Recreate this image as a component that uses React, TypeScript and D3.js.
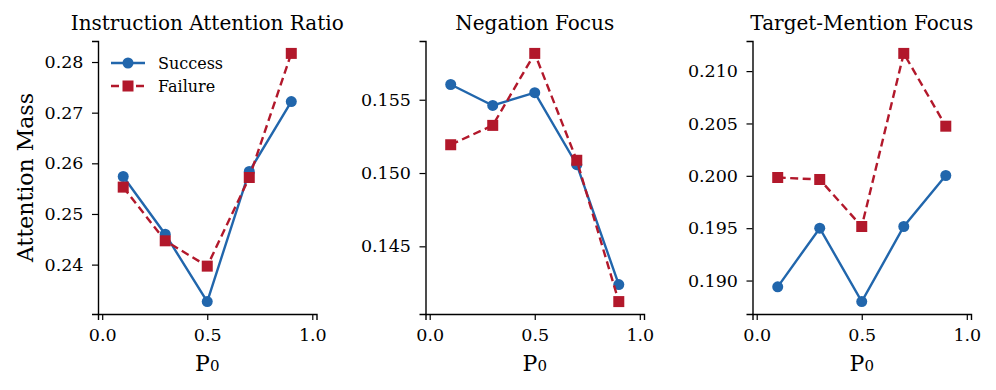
import React, { useRef, useEffect } from "react";
import * as d3 from "d3";

const p0 = [0.1, 0.3, 0.5, 0.7, 0.9];
const xTicks = [0.0, 0.5, 1.0];

const panelTitles = ["Instruction Attention Ratio", "Negation Focus", "Target-Mention Focus"];

const instrSuccess = [0.2574, 0.2460, 0.2327, 0.2584, 0.2722];
const instrFailure = [0.2553, 0.2447, 0.2397, 0.2572, 0.2817];
const negSuccess = [0.15604, 0.15461, 0.15548, 0.15057, 0.14239];
const negFailure = [0.15193, 0.15325, 0.15816, 0.15087, 0.14123];
const targetSuccess = [0.18940, 0.19500, 0.18799, 0.19516, 0.20003];
const targetFailure = [0.19984, 0.19965, 0.19516, 0.21169, 0.20474];

const instrTicks = [0.24, 0.25, 0.26, 0.27, 0.28];
const negTicks = [0.145, 0.150, 0.155];
const targetTicks = [0.190, 0.195, 0.200, 0.205, 0.210];

const blue = "#2166ac";
const red = "#b2182b";
const font = "DejaVu Serif";

const App = () => {
    const plot = useRef(null);

    const width = 996;
    const height = 390;
    const top = 41;
    const bottom = 314;
    const panelLeft = [98, 425.5, 752.5];
    const panelWidth = 218.5;
    const tickFont = 17.5;

    useEffect(() => {
        const svg = d3.select(plot.current);
        svg.selectAll("*").remove();

        const panels = [
            { success: instrSuccess, failure: instrFailure, ticks: instrTicks, fmt: ".2f" },
            { success: negSuccess, failure: negFailure, ticks: negTicks, fmt: ".3f" },
            { success: targetSuccess, failure: targetFailure, ticks: targetTicks, fmt: ".3f" },
        ];

        panels.forEach((p, i) => {
            const left = panelLeft[i];
            const g = svg.append("g").attr("transform", `translate(${left},0)`);

            // matplotlib-like 5% margins on y
            const all = [...p.success, ...p.failure];
            const lo = d3.min(all), hi = d3.max(all);
            const pad = (hi - lo) * 0.05;

            const x = d3.scaleLinear().domain([-0.02, 1.02]).range([0, panelWidth]);
            const y = d3.scaleLinear().domain([lo - pad, hi + pad]).range([bottom, top]);

            const xAxis = d3.axisBottom(x).tickValues(xTicks).tickFormat(d3.format(".1f"))
                .tickSizeOuter(0).tickSize(6).tickPadding(9);
            const yAxis = d3.axisLeft(y).tickValues(p.ticks).tickFormat(d3.format(p.fmt))
                .tickSizeOuter(0).tickSize(6).tickPadding(8.5);

            g.append("g").attr("transform", `translate(0,${bottom})`).call(xAxis)
                .call(a => a.selectAll("text").attr("font-family", font).attr("font-size", tickFont).attr("fill", "#000"))
                .call(a => a.selectAll("line").attr("stroke-width", 1.2))
                .call(a => a.select(".domain").attr("stroke-width", 1.4));
            g.append("g").call(yAxis)
                .call(a => a.selectAll("text").attr("font-family", font).attr("font-size", tickFont).attr("fill", "#000"))
                .call(a => a.selectAll("line").attr("stroke-width", 1.2))
                .call(a => a.select(".domain").attr("stroke-width", 1.4));

            const line = d3.line().x((d, j) => x(p0[j])).y(d => y(d));

            g.append("path").datum(p.success)
                .attr("d", line).attr("fill", "none").attr("stroke", blue).attr("stroke-width", 2.4);
            g.selectAll(".sdot").data(p.success).join("circle")
                .attr("cx", (d, j) => x(p0[j])).attr("cy", d => y(d)).attr("r", 5.5).attr("fill", blue);

            g.append("path").datum(p.failure)
                .attr("d", line).attr("fill", "none").attr("stroke", red).attr("stroke-width", 2.4)
                .attr("stroke-dasharray", "8,4.5");
            g.selectAll(".fsq").data(p.failure).join("rect")
                .attr("x", (d, j) => x(p0[j]) - 5.5).attr("y", d => y(d) - 5.5)
                .attr("width", 11).attr("height", 11).attr("fill", red);

            g.append("text")
                .attr("x", panelWidth / 2).attr("y", 30)
                .attr("text-anchor", "middle")
                .attr("font-family", font).attr("font-size", 20)
                .text(panelTitles[i]);

            const xl = g.append("text")
                .attr("x", panelWidth / 2).attr("y", 371)
                .attr("text-anchor", "middle")
                .attr("font-family", font).attr("font-size", 22);
            xl.append("tspan").text("P");
            xl.append("tspan").attr("font-size", 15).text("0");

            if (i === 0) {
                g.append("text")
                    .attr("transform", `translate(${-65},${(top + bottom) / 2}) rotate(-90)`)
                    .attr("text-anchor", "middle")
                    .attr("font-family", font).attr("font-size", 22)
                    .text("Attention Mass");

                const legend = g.append("g").attr("transform", "translate(13,0)");
                const items = [
                    { label: "Success", color: blue, dash: null, shape: "circle" },
                    { label: "Failure", color: red, dash: "8,4.5", shape: "square" },
                ];
                items.forEach((it, k) => {
                    const ly = 63 + k * 23;
                    legend.append("line")
                        .attr("x1", 0).attr("x2", 34).attr("y1", ly).attr("y2", ly)
                        .attr("stroke", it.color).attr("stroke-width", 2.4)
                        .attr("stroke-dasharray", it.dash);
                    if (it.shape === "circle") {
                        legend.append("circle").attr("cx", 17).attr("cy", ly).attr("r", 5.5).attr("fill", it.color);
                    } else {
                        legend.append("rect").attr("x", 11.5).attr("y", ly - 5.5)
                            .attr("width", 11).attr("height", 11).attr("fill", it.color);
                    }
                    legend.append("text")
                        .attr("x", 47).attr("y", ly).attr("dy", "0.35em")
                        .attr("font-family", font).attr("font-size", 16)
                        .text(it.label);
                });
            }
        });
    });

    return (
        <svg ref={plot} width={width} height={height} style={{ position: "absolute", left: 0, top: 0 }} />
    );
};

export default App;
